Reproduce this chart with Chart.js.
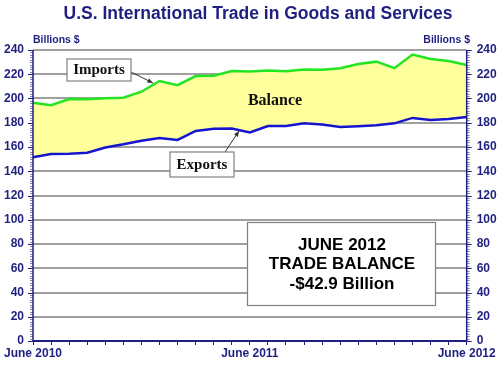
<!DOCTYPE html>
<html>
<head>
<meta charset="utf-8">
<script src="https://cdn.jsdelivr.net/npm/chart.js@4.4.1/dist/chart.umd.min.js"></script>
<style>
  html, body { margin: 0; padding: 0; background: #fff; }
  #wrap { width: 500px; height: 382px; }
</style>
</head>
<body>
<div id="wrap"><canvas id="mycanvas" width="500" height="382"></canvas></div>
<script>
// months June 2010 .. June 2012
var months = ['Jun 2010','Jul 2010','Aug 2010','Sep 2010','Oct 2010','Nov 2010','Dec 2010',
              'Jan 2011','Feb 2011','Mar 2011','Apr 2011','May 2011','Jun 2011','Jul 2011',
              'Aug 2011','Sep 2011','Oct 2011','Nov 2011','Dec 2011','Jan 2012','Feb 2012',
              'Mar 2012','Apr 2012','May 2012','Jun 2012'];
var xTickLabels = { 0: 'June 2010', 12: 'June 2011', 24: 'June 2012' };
var imports = [196.5, 194.5, 199.5, 199.3, 200.2, 200.7, 205.6, 214.4, 211.0, 218.5, 218.8, 222.6, 222.2,
               223.0, 222.5, 224.0, 223.8, 225.0, 228.5, 230.4, 225.0, 236.2, 232.6, 231.0, 227.6];
var exports = [151.5, 154.2, 154.5, 155.2, 159.6, 162.2, 165.2, 167.4, 165.8, 173.2, 175.0, 175.2, 172.0,
               177.3, 177.3, 179.5, 178.5, 176.5, 177.2, 178.0, 179.5, 184.0, 182.2, 183.0, 184.7];
var yTicks = [0, 20, 40, 60, 80, 100, 120, 140, 160, 180, 200, 220, 240];

var navy = '#1f1f80';
var font = '"Liberation Sans", Arial, sans-serif';
var serif = '"Liberation Serif", "Times New Roman", serif';

function drawBox(ctx, x, y, w, h) {
    ctx.fillStyle = '#fff';
    ctx.fillRect(x, y, w, h);
    ctx.strokeStyle = '#808080';
    ctx.lineWidth = 1.2;
    ctx.strokeRect(x, y, w, h);
}

function drawArrow(ctx, x1, y1, x2, y2) {
    ctx.strokeStyle = '#333';
    ctx.fillStyle = '#333';
    ctx.lineWidth = 1;
    ctx.beginPath();
    ctx.moveTo(x1, y1);
    ctx.lineTo(x2, y2);
    ctx.stroke();
    var a = Math.atan2(y2 - y1, x2 - x1);
    ctx.beginPath();
    ctx.moveTo(x2, y2);
    ctx.lineTo(x2 - 6 * Math.cos(a - 0.4), y2 - 6 * Math.sin(a - 0.4));
    ctx.lineTo(x2 - 6 * Math.cos(a + 0.4), y2 - 6 * Math.sin(a + 0.4));
    ctx.closePath();
    ctx.fill();
}

var decor = {
    id: 'decor',
    beforeDraw: function(chart) {
        var ctx = chart.ctx;
        ctx.save();
        ctx.fillStyle = '#fff';
        ctx.fillRect(0, 0, chart.width, chart.height);
        ctx.restore();
    },
    afterDraw: function(chart) {
        var ctx = chart.ctx;
        var area = chart.chartArea;
        var y = chart.scales.y;
        ctx.save();
        // title
        ctx.fillStyle = navy;
        ctx.textAlign = 'center';
        ctx.textBaseline = 'middle';
        ctx.font = 'bold 17.5px ' + font;
        ctx.fillText('U.S. International Trade in Goods and Services', 258, 14);
        ctx.font = 'bold 10.5px ' + font;
        ctx.textAlign = 'left';
        ctx.fillText('Billions $', 33, 40);
        ctx.textAlign = 'right';
        ctx.fillText('Billions $', 470, 40);

        // ruler ticks on both value axes
        ctx.strokeStyle = navy;
        ctx.lineWidth = 1;
        for (var v = 0; v <= 240; v += 2) {
            var py = Math.round(y.getPixelForValue(v)) + 0.5;
            var len = (v % 20 === 0) ? 5 : 3;
            ctx.globalAlpha = (v % 20 === 0) ? 1 : 0.55;
            ctx.beginPath();
            ctx.moveTo(area.left - len, py);
            ctx.lineTo(area.left, py);
            ctx.moveTo(area.right, py);
            ctx.lineTo(area.right + len, py);
            ctx.stroke();
        }
        ctx.globalAlpha = 1;
        ctx.lineWidth = 1.5;
        ctx.beginPath();
        ctx.moveTo(area.left, area.top);
        ctx.lineTo(area.left, area.bottom);
        ctx.moveTo(area.right, area.top);
        ctx.lineTo(area.right, area.bottom);
        ctx.stroke();
        ctx.lineWidth = 2;
        ctx.beginPath();
        ctx.moveTo(area.left, area.bottom);
        ctx.lineTo(area.right, area.bottom);
        ctx.stroke();

        // labels
        drawArrow(ctx, 131, 72, 153, 83);
        drawBox(ctx, 67, 59, 64, 22);
        drawArrow(ctx, 225, 152, 239, 131);
        drawBox(ctx, 170, 152, 64, 25);
        ctx.fillStyle = '#111';
        ctx.textAlign = 'center';
        ctx.font = 'bold 15px ' + serif;
        ctx.fillText('Imports', 99, 70);
        ctx.fillText('Exports', 202, 165);
        ctx.font = 'bold 16px ' + serif;
        ctx.fillText('Balance', 275, 101);

        drawBox(ctx, 247.5, 222.5, 188, 83);
        ctx.fillStyle = '#000';
        ctx.font = 'bold 17px ' + font;
        ctx.fillText('JUNE 2012', 342, 245);
        ctx.fillText('TRADE BALANCE', 342, 264);
        ctx.fillText('-$42.9 Billion', 342, 284);
        ctx.restore();
    }
};

var ctx = document.getElementById('mycanvas');
var chart = new Chart(ctx, {
    type: 'line',
    data: {
        labels: months,
        datasets: [
            {
                label: 'Imports',
                data: imports,
                borderColor: '#22e622',
                backgroundColor: '#ffff9c',
                borderWidth: 2.5,
                pointRadius: 0,
                tension: 0,
                fill: '+1'
            },
            {
                label: 'Exports',
                data: exports,
                borderColor: '#1515d0',
                borderWidth: 2.5,
                pointRadius: 0,
                tension: 0,
                fill: false
            }
        ]
    },
    options: {
        responsive: false,
        animation: false,
        layout: { padding: { top: 50, left: 0, right: 0, bottom: 0 } },
        plugins: {
            legend: { display: false },
            title: { display: false },
            tooltip: { enabled: false },
            filler: { drawTime: 'beforeDatasetsDraw' }
        },
        scales: {
            x: {
                type: 'category',
                offset: false,
                border: { display: false },
                grid: { drawOnChartArea: false, drawTicks: true, tickLength: 4, color: navy, lineWidth: 1 },
                ticks: {
                    autoSkip: false,
                    maxRotation: 0,
                    padding: 1,
                    color: navy,
                    font: { family: font, size: 12, weight: 'bold' },
                    callback: function(val, i) { return xTickLabels[i] || ''; }
                },
                afterFit: function(s) { s.height = 41; }
            },
            y: {
                position: 'left',
                min: 0,
                max: 240,
                afterBuildTicks: function(s) { s.ticks = yTicks.map(function(v) { return { value: v }; }); },
                border: { display: false },
                grid: { color: '#a0a0a0', lineWidth: 2, drawTicks: false },
                ticks: {
                    padding: 9,
                    color: navy,
                    font: { family: font, size: 12, weight: 'bold' }
                },
                afterFit: function(s) { s.width = 33; }
            },
            y2: {
                position: 'right',
                min: 0,
                max: 240,
                afterBuildTicks: function(s) { s.ticks = yTicks.map(function(v) { return { value: v }; }); },
                border: { display: false },
                grid: { drawOnChartArea: false, drawTicks: false },
                ticks: {
                    padding: 10,
                    color: navy,
                    font: { family: font, size: 12, weight: 'bold' }
                },
                afterFit: function(s) { s.width = 33.3; }
            }
        }
    },
    plugins: [decor]
});
</script>
</body>
</html>
